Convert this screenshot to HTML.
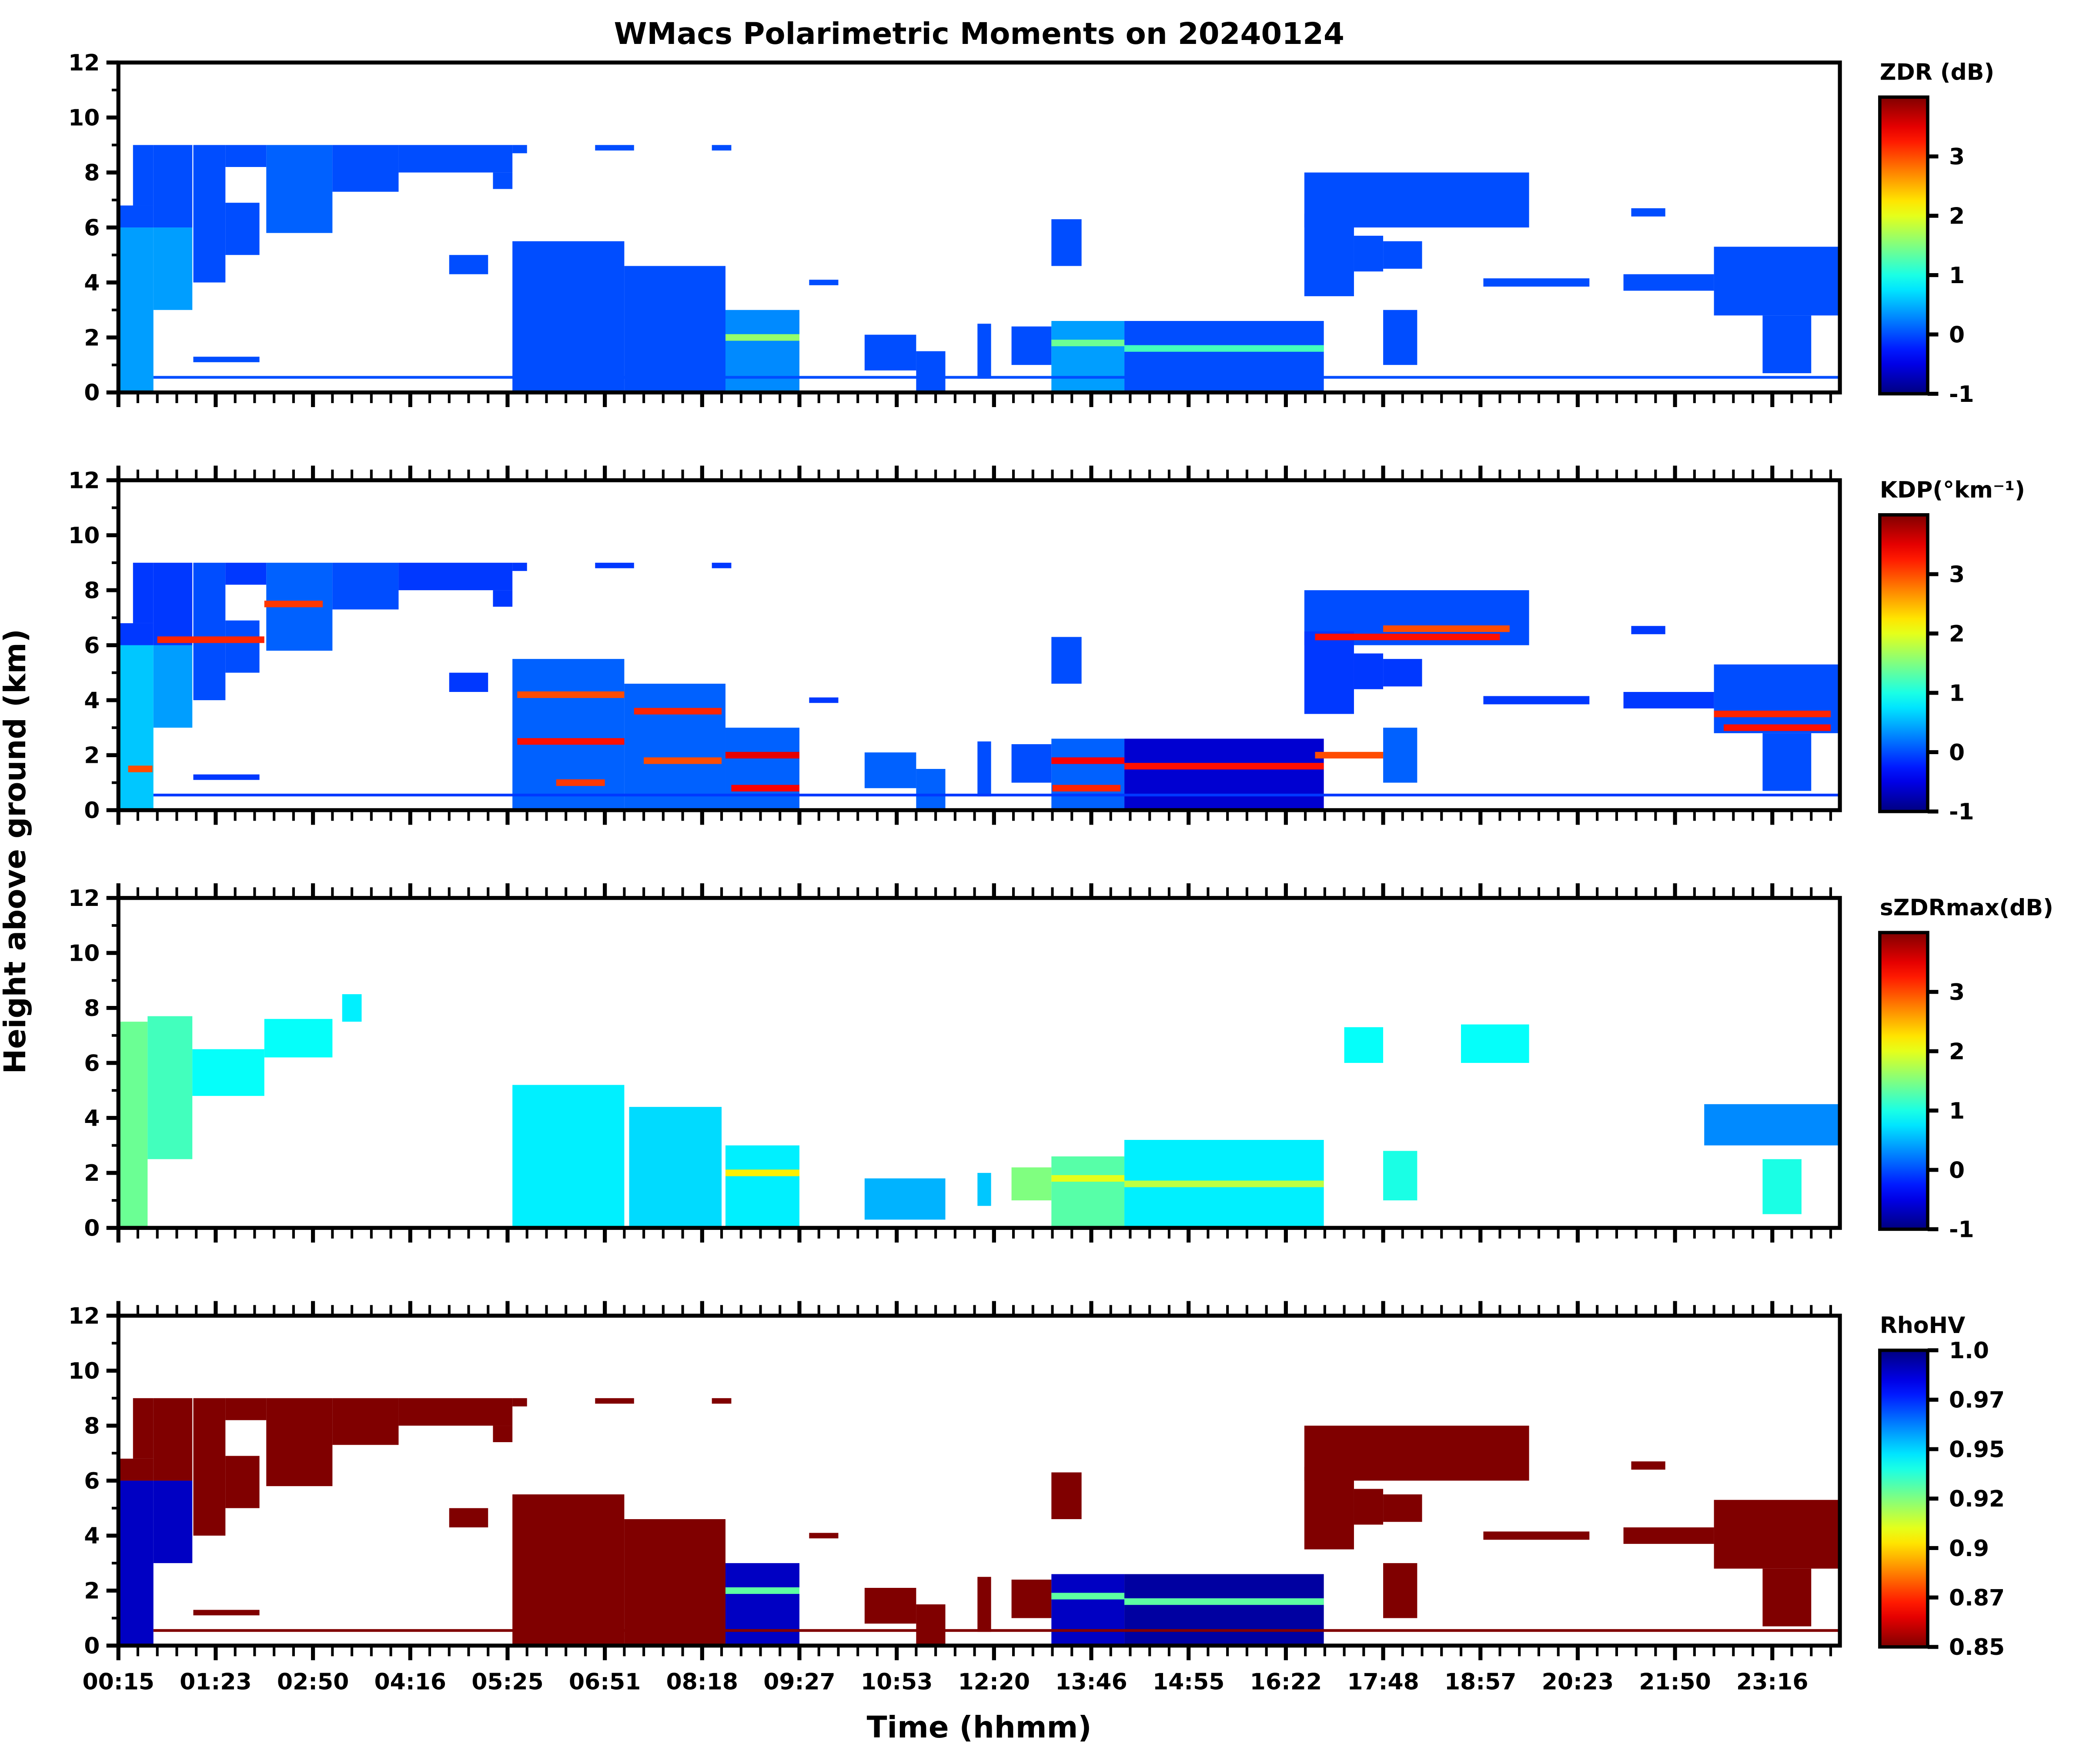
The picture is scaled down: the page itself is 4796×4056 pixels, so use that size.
<!DOCTYPE html>
<html><head><meta charset="utf-8"><style>
html,body{margin:0;padding:0;background:#fff}
svg{display:block}
text{font-family:"DejaVu Sans","Liberation Sans",sans-serif;font-weight:bold;fill:#000}
</style></head><body>
<svg id="fig" width="4796" height="4056" viewBox="0 0 1568 1326" preserveAspectRatio="none" xmlns="http://www.w3.org/2000/svg">
<text x="736" y="33" font-size="22.5" text-anchor="middle">WMacs Polarimetric Moments on 20240124</text>
<text transform="translate(19,640) rotate(-90)" font-size="22.5" text-anchor="middle">Height above ground (km)</text>
<text x="736" y="1306" font-size="22.5" text-anchor="middle">Time (hhmm)</text>
<g id="plots"></g>
</svg>
<script>
// x positions in major-tick units (0 = 00:15 ... ), heights in km
const timeLabels = ["00:15","01:23","02:50","04:16","05:25","06:51","08:18","09:27","10:53","12:20","13:46","14:55","16:22","17:48","18:57","20:23","21:50","23:16"];
const yTicks = [0,2,4,6,8,10,12];
const dbTicks = [-1,0,1,2,3];
const rhoTicks = ["0.85","0.87","0.9","0.92","0.95","0.97","1.0"];
const cbTitles = ["ZDR (dB)","KDP(°km⁻¹)","sZDRmax(dB)","RhoHV"];
// cloud segments: [t0, t1, bottomKm, topKm]
const segT0 = [0,0,0.15,0.36,0.36,0.77,1.1,1.1,1.52,2.2,2.88,3.85,3.4,0.77,4.05,5.2,6.24,4.05,4.9,6.1,7.1,7.67,8.2,8.83,9.18,9.59,10.34,9.59,12.19,12.19,12.7,13.0,13.0,14.03,15.47,16.4,16.9,15.55,0.36];
const segT1 = [0.36,0.36,0.36,0.76,0.76,1.1,1.45,1.52,2.2,2.88,4.05,4.05,3.8,1.45,5.2,6.24,7.0,4.2,5.3,6.3,7.4,8.2,8.5,8.97,9.59,10.34,12.39,9.9,14.5,12.7,13.0,13.4,13.35,15.12,16.4,17.69,17.4,15.9,17.69];
const segBot = [0,6.0,6.8,3.0,6.0,4.0,5.0,8.2,5.8,7.3,8.0,7.4,4.3,1.1,0,0,0,8.7,8.8,8.8,3.9,0.8,0,0.5,1.0,0,0,4.6,6.0,3.5,4.4,4.5,1.0,3.85,3.7,2.8,0.7,6.4,0.5];
const segTop = [6.0,6.8,9,6.0,9,9,6.9,9,9,9,9,8.0,5.0,1.3,5.5,4.6,3.0,9,9,9,4.1,2.1,1.5,2.5,2.4,2.6,2.6,6.3,8.0,6.5,5.7,5.5,3.0,4.15,4.3,5.3,2.8,6.7,0.6];
// per-panel values per segment
const zdrVals = [0.4,0,0,0.4,0,0,0,0,0.1,0,0,0,0,0,0,0,0.3,0,0,0,0,0,0,0,0,0.4,0,0,0,0,0,0,0,0,0,0,0,0,0];
const kdpVals = [0.6,-0.1,-0.1,0.4,-0.1,0,0,-0.1,0.1,0,-0.1,-0.1,-0.1,-0.1,0.1,0.1,0.1,-0.1,-0.1,-0.1,-0.1,0.1,0.1,0,0,0.1,-0.6,0,0,-0.1,-0.1,-0.1,0.1,-0.1,-0.1,0,0,-0.1,-0.1];
const rhoVals = [0.99,0.85,0.85,0.99,0.85,0.85,0.85,0.85,0.85,0.85,0.85,0.85,0.85,0.85,0.85,0.85,0.99,0.85,0.85,0.85,0.85,0.85,0.85,0.85,0.85,0.99,0.995,0.85,0.85,0.85,0.85,0.85,0.85,0.85,0.85,0.85,0.85,0.85,0.85];
// sZDRmax segments (separate mask)
const szT0 = [0,0.3,0.76,1.5,2.3,4.05,5.25,6.24,7.67,8.83,9.18,9.59,10.34,12.6,13.0,13.8,16.3,16.9];
const szT1 = [0.3,0.76,1.5,2.2,2.5,5.2,6.2,7.0,8.5,8.97,9.59,10.34,12.39,13.0,13.35,14.5,17.69,17.3];
const szBot = [0,2.5,4.8,6.2,7.5,0,0,0,0.3,0.8,1.0,0,0,6.0,1.0,6.0,3.0,0.5];
const szTop = [7.5,7.7,6.5,7.6,8.5,5.2,4.4,3.0,1.8,2.0,2.2,2.6,3.2,7.3,2.8,7.4,4.5,2.5];
const szVals = [1.4,1.2,0.9,0.9,0.8,0.8,0.7,0.8,0.5,0.6,1.5,1.3,0.8,0.9,1.0,0.9,0.3,1.0];
// bright layers (melting layer / KDP bands)
const bandT0 = [6.24,9.59,10.34,0.4,4.1,5.3,1.5,12.3,13.0,16.4,0.1,4.1,4.5,5.4,6.3,9.6,12.3,16.5];
const bandT1 = [7.0,10.34,12.39,1.5,5.2,6.2,2.1,14.2,14.3,17.6,0.35,5.2,5.0,6.2,7.0,10.3,13.0,17.6];
const bandKm = [2.0,1.8,1.6,6.2,4.2,3.6,7.5,6.3,6.6,3.5,1.5,2.5,1.0,1.8,0.8,0.8,2.0,3.0];
const bandZdr = [1.6,1.4,1.2,null,null,null,null,null,null,null,null,null,null,null,null,null,null,null];
const bandKdp = [3.5,3.4,3.3,3.2,3.0,3.2,3.1,3.3,3.0,3.2,3.0,3.3,3.1,3.0,3.4,3.2,3.0,3.3];

const NS='http://www.w3.org/2000/svg';
const AX_L=89, AX_R=1383, PH=248, MAJ=73.13, TMAX=(1383-89)/73.13;
const panelTops=[47,361,675,989];
function X(t){return AX_L+t*MAJ;}
function Y(top,km){return top+PH-km/12*PH;}
function jet(v){const c=x=>Math.round(255*Math.max(0,Math.min(1,1.5-Math.abs(x))));return `rgb(${c(4*v-3)},${c(4*v-2)},${c(4*v-1)})`;}
function dbColor(v){return jet((v+1)/5);}
function rhoColor(v){return jet(1-(v-0.85)/0.15);}
function el(tag,attrs,parent){const e=document.createElementNS(NS,tag);for(const k in attrs)e.setAttribute(k,attrs[k]);parent.appendChild(e);return e;}
const root=document.getElementById('plots');
const defs=el('defs',{},root);
['db','rho'].forEach(kind=>{
  const g=el('linearGradient',{id:'grad-'+kind,x1:0,y1:1,x2:0,y2:0},defs);
  for(let i=0;i<=20;i++){const v=i/20;el('stop',{offset:v,'stop-color':kind==='db'?jet(v):jet(1-v)},g);}
});
function rect(g,x0,x1,y0,y1,fill,name){
  const r=el('rect',{x:Math.min(x0,x1),y:Math.min(y0,y1),width:Math.abs(x1-x0),height:Math.max(0.8,Math.abs(y1-y0)),fill:fill},g);
  
  
  return r;
}
const panelNames=['zdr','kdp','szdrmax','rhohv'];
panelTops.forEach((top,p)=>{
  const g=el('g',{},root);
  
  
  const clip=el('clipPath',{id:'clip'+p},defs);
  el('rect',{x:AX_L,y:top,width:AX_R-AX_L,height:PH},clip);
  const data=el('g',{'clip-path':`url(#clip${p})`},g);
  
  
  if(p===2){
    for(let i=0;i<szT0.length;i++) rect(data,X(szT0[i]),X(szT1[i]),Y(top,szBot[i]),Y(top,szTop[i]),dbColor(szVals[i]),'szdr-cell');
  } else {
    for(let i=0;i<segT0.length;i++){
      const v=p===0?dbColor(zdrVals[i]):p===1?dbColor(kdpVals[i]):rhoColor(rhoVals[i]);
      rect(data,X(segT0[i]),X(segT1[i]),Y(top,segBot[i]),Y(top,segTop[i]),v,panelNames[p]+'-cell');
    }
  }
  for(let i=0;i<bandT0.length;i++){
    let c=null;
    if(p===0&&bandZdr[i]!==null)c=dbColor(bandZdr[i]);
    if(p===1)c=dbColor(bandKdp[i]);
    if(p===2&&bandZdr[i]!==null)c=dbColor(bandZdr[i]+0.6);
    if(p===3&&bandZdr[i]!==null)c=rhoColor(0.93);
    if(c)rect(data,X(bandT0[i]),X(bandT1[i]),Y(top,bandKm[i]+0.12),Y(top,bandKm[i]-0.12),c,'layer-band');
  }
  const fr=el('rect',{x:AX_L,y:top,width:AX_R-AX_L,height:PH,fill:'none',stroke:'#000','stroke-width':3},g);
  
  
  for(let k=0;k<=12;k++){
    const y=Y(top,k), major=k%2===0;
    el('line',{x1:AX_L-(major?9:5),x2:AX_L,y1:y,y2:y,stroke:'#000','stroke-width':major?3:2},g);
  }
  yTicks.forEach(v=>{
    const t=el('text',{x:AX_L-14,y:Y(top,v)+6,'font-size':17,'text-anchor':'end'},g);
    t.textContent=v;
    
    
  });
  for(let k=0;k*0.2<=TMAX+0.001;k++){
    const x=X(k*0.2), major=k%5===0;
    el('line',{x1:x,x2:x,y1:top+PH,y2:top+PH+(major?11:8),stroke:'#000','stroke-width':major?3:2},g);
    if(p>0) el('line',{x1:x,x2:x,y1:top,y2:top-(major?11:8),stroke:'#000','stroke-width':major?3:2},g);
  }
  if(p===3){
    timeLabels.forEach((s,i)=>{
      const t=el('text',{x:X(i),y:top+PH+33,'font-size':17,'text-anchor':'middle'},g);
      t.textContent=s;
      
      
    });
  }
  const cbTop=top+26, cbBot=top+PH+1;
  const cb=el('rect',{x:1413,y:cbTop,width:36,height:cbBot-cbTop,fill:p===3?'url(#grad-rho)':'url(#grad-db)',stroke:'#000','stroke-width':2.5},g);
  
  
  const tt=el('text',{x:1413,y:top+13,'font-size':17},g);
  tt.textContent=cbTitles[p];
  
  
  const labels=p===3?rhoTicks:dbTicks;
  labels.forEach((s,i)=>{
    const y=p===3?cbBot-(i/(labels.length-1))*(cbBot-cbTop):cbBot-((s+1)/5)*(cbBot-cbTop);
    el('line',{x1:1449,x2:1457,y1:y,y2:y,stroke:'#000','stroke-width':3},g);
    const t=el('text',{x:1465,y:y+6,'font-size':17},g);
    t.textContent=s;
    
    
  });
});
</script>
</body></html>
